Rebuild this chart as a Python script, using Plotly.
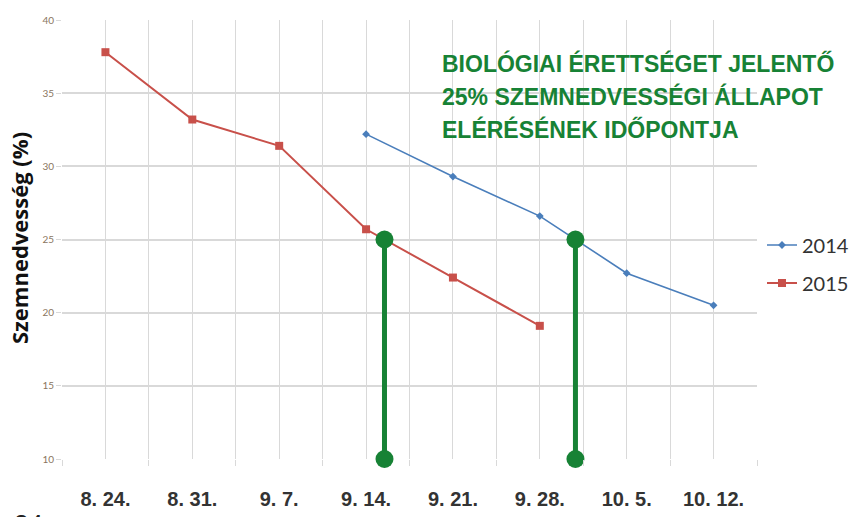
"""Seed moisture chart: 2014 vs 2015, 25% maturity threshold."""

import plotly.graph_objects as go

# Data
dates = ["8. 24.", "8. 31.", "9. 7.", "9. 14.", "9. 21.", "9. 28.", "10. 5.", "10. 12."]
moisture_2014 = [None, None, None, 32.2, 29.3, 26.6, 22.7, 20.5]
moisture_2015 = [37.8, 33.2, 31.4, 25.7, 22.4, 19.1, None, None]
threshold = 25
y_floor = 10
y_title = "Szemnedvesség (%)"
note_lines = [
    "BIOLÓGIAI ÉRETTSÉGET JELENTŐ",
    "25% SZEMNEDVESSÉGI ÁLLAPOT",
    "ELÉRÉSÉNEK IDŐPONTJA",
]

BLUE = "#4a7ebb"
RED = "#c8504a"
GREEN = "#178235"
GRID = "#d9d9d9"

# the page body adds an 8px offset, so margins are shifted by 8px;
# extra width on the right keeps the legend from squeezing the plot
W, H = 872, 509
ML, MT, PW, PH = 54, 12, 695, 439


def crossing(values, level):
    """Fractional category index where the series drops through `level`."""
    for i in range(len(values) - 1):
        a, b = values[i], values[i + 1]
        if a is None or b is None:
            continue
        if a >= level >= b:
            return i + (a - level) / (a - b)
    return None


xs = list(range(len(dates)))

fig = go.Figure()
fig.add_trace(
    go.Scatter(
        x=xs,
        y=moisture_2014,
        mode="lines+markers",
        name="2014",
        legendgroup="a",
        line=dict(color=BLUE, width=1.6),
        marker=dict(symbol="diamond", size=6, color=BLUE),
    )
)
fig.add_trace(
    go.Scatter(
        x=xs,
        y=moisture_2015,
        mode="lines+markers",
        name="2015",
        legendgroup="b",
        line=dict(color=RED, width=2),
        marker=dict(symbol="square", size=8, color=RED),
    )
)

for series in (moisture_2015, moisture_2014):
    xc = crossing(series, threshold)
    fig.add_trace(
        go.Scatter(
            x=[xc, xc],
            y=[threshold, y_floor],
            mode="lines+markers",
            showlegend=False,
            cliponaxis=False,
            line=dict(color=GREEN, width=5),
            marker=dict(size=18, color=GREEN),
            hoverinfo="skip",
        )
    )

for i, line in enumerate(note_lines):
    fig.add_annotation(
        xref="paper",
        yref="paper",
        x=(440 - 62) / PW,
        y=(459 - 63 - i * 33.5) / PH,
        xanchor="left",
        yanchor="middle",
        text=line,
        showarrow=False,
        font=dict(family="Liberation Sans", size=23, weight="bold", color=GREEN),
    )

# y-axis title as a rotated annotation (standoff is ignored without automargin)
fig.add_annotation(
    xref="paper",
    yref="paper",
    x=(19 - 62) / PW,
    y=(459 - 238) / PH,
    xanchor="center",
    yanchor="middle",
    text=f"<b>{y_title}</b>",
    textangle=-90,
    showarrow=False,
    borderpad=0,
    font=dict(family="Open Sans", size=22, color="#111"),
)

# page number peeking in at the bottom edge
fig.add_annotation(
    xref="paper",
    yref="paper",
    x=-50 / PW,
    y=-48 / PH,
    xanchor="left",
    yanchor="top",
    text="24",
    showarrow=False,
    font=dict(family="Liberation Sans", size=26, color="#222"),
)

fig.update_layout(
    width=W,
    height=H,
    margin=dict(l=ML, r=W - ML - PW, t=MT, b=H - MT - PH),
    paper_bgcolor="white",
    plot_bgcolor="white",
    showlegend=True,
    legend=dict(
        x=1 + (762 - 757) / PW,
        y=(459 - 264) / PH,
        xanchor="left",
        yanchor="middle",
        tracegroupgap=9,
        font=dict(family="Lato", size=20, color="#333"),
        itemwidth=30,
    ),
    xaxis=dict(
        range=[-0.5, len(dates) - 0.5],
        tickvals=xs,
        ticktext=dates,
        ticks="",
        automargin=False,
        showgrid=True,
        gridcolor=GRID,
        gridwidth=1,
        zeroline=False,
        showline=False,
        ticklabelstandoff=26,
        tickfont=dict(family="Liberation Sans", size=20, weight="bold", color="#333"),
        minor=dict(
            tickvals=[i - 0.5 for i in range(len(dates) + 1)],
            ticks="outside",
            ticklen=6,
            tickcolor=GRID,
            showgrid=True,
            gridcolor=GRID,
        ),
    ),
    yaxis=dict(
        range=[10, 40],
        dtick=5,
        automargin=False,
        showgrid=True,
        gridcolor=GRID,
        gridwidth=2,
        zeroline=False,
        ticks="outside",
        ticklen=5,
        tickcolor=GRID,
        tickfont=dict(family="Lato", size=10, color="#8a7560"),
    ),
)

fig.write_html("out.html")
